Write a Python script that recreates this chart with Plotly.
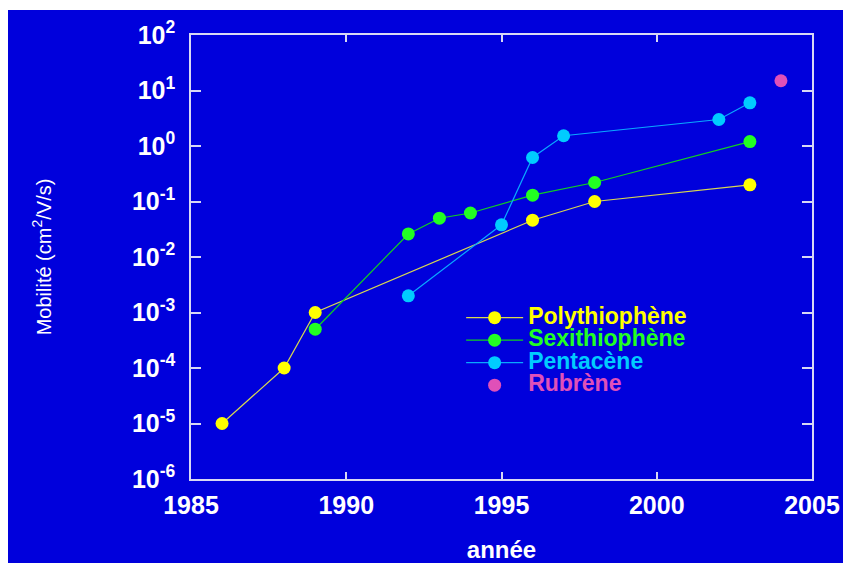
import plotly.graph_objects as go

# ---- data ----
poly_years = [1986, 1988, 1989, 1996, 1998, 2003]
poly_mob = [1e-5, 1e-4, 1e-3, 0.046, 0.1, 0.2]

sexi_years = [1989, 1992, 1993, 1994, 1996, 1998, 2003]
sexi_mob = [5e-4, 0.026, 0.05, 0.062, 0.13, 0.22, 1.2]

penta_years = [1992, 1995, 1996, 1997, 2002, 2003]
penta_mob = [0.002, 0.038, 0.62, 1.53, 3.0, 6.0]

rubr_years = [2004]
rubr_mob = [15]

series_names = ["Polythiophène", "Sexithiophène", "Pentacène", "Rubrène"]
y_tickvals = [1e-6, 1e-5, 1e-4, 1e-3, 1e-2, 1e-1, 1e0, 1e1, 1e2]
y_ticktext = ["10<sup>-6</sup>", "10<sup>-5</sup>", "10<sup>-4</sup>", "10<sup>-3</sup>",
              "10<sup>-2</sup>", "10<sup>-1</sup>", "10<sup>0</sup>", "10<sup>1</sup>",
              "10<sup>2</sup>"]
x_tickvals = [1985, 1990, 1995, 2000, 2005]

BG = "#0000DC"
AX = "#D8D8F4"
FONT = "Liberation Sans, Arial, sans-serif"

marker_cols = ["#FFFF00", "#22FF22", "#00CCFF", "#E050B8"]
line_cols = ["#D8D850", "#10D020", "#0AA8FF", None]


def legend_name(name, col):
    return f"<span style='color:{col};font-size:23px'>{name}</span>"


fig = go.Figure()
data = [(poly_years, poly_mob), (sexi_years, sexi_mob), (penta_years, penta_mob), (rubr_years, rubr_mob)]
for i, (xs, ys) in enumerate(data):
    mode = "lines+markers" if line_cols[i] else "markers"
    fig.add_trace(go.Scatter(
        x=xs, y=ys, mode=mode,
        name=legend_name(series_names[i], marker_cols[i]),
        line=dict(color=line_cols[i] or marker_cols[i], width=1.2),
        marker=dict(color=marker_cols[i], size=13, line=dict(width=0)),
    ))

W, H = 843, 563
L, R, T, B = 191, 31, 35, 84
PW, PH = W - L - R, H - T - B

fig.update_layout(
    width=W, height=H,
    margin=dict(l=L, r=R, t=T, b=B, autoexpand=False),
    paper_bgcolor=BG, plot_bgcolor=BG,
    font=dict(family=FONT, color="white"),
    showlegend=True,
    legend=dict(
        x=0.435, y=0.40, xanchor="left", yanchor="top",
        bgcolor="rgba(0,0,0,0)", borderwidth=0,
        font=dict(size=15, family=FONT, weight="bold", color="white"),
        itemwidth=57, tracegroupgap=0,
    ),
    xaxis=dict(
        range=[1985, 2005], tickvals=x_tickvals, automargin=False,
        ticks="inside", ticklen=7, tickwidth=1.5, tickcolor=AX,
        showline=True, linecolor=AX, linewidth=1.5, mirror="ticks",
        showgrid=False, zeroline=False,
        tickfont=dict(size=25, family=FONT, weight="bold", color="white"),
        ticklabelstandoff=3,
        title=dict(text="année", font=dict(size=24, family=FONT, weight="bold", color="white"),
                   standoff=40),
    ),
    yaxis=dict(
        type="log", range=[-6, 2], tickvals=y_tickvals, ticktext=y_ticktext, automargin=False,
        ticks="inside", ticklen=10, tickwidth=1.5, tickcolor=AX,
        showline=True, linecolor=AX, linewidth=1.5, mirror="ticks",
        showgrid=False, zeroline=False,
        tickfont=dict(size=25, family=FONT, weight="bold", color="white"),
        ticklabelstandoff=9,
        title=dict(text="Mobilité (cm<sup>2</sup>/V/s)",
                   font=dict(size=20, family=FONT, color="white"), standoff=75),
    ),
    shapes=[
        dict(type="rect", xref="paper", yref="paper", x0=-1, x1=2,
             y0=1 + (T - 10) / PH, y1=1.5, fillcolor="white", line=dict(width=0), layer="above"),
        dict(type="rect", xref="paper", yref="paper", x0=-1, x1=(8 - L) / PW,
             y0=-1, y1=2, fillcolor="white", line=dict(width=0), layer="above"),
    ],
)

fig.write_html(
    "out.html",
    config={"displayModeBar": False},
    post_script="document.body.style.margin='0px';document.documentElement.style.overflow='hidden';document.body.style.overflow='hidden';",
)
